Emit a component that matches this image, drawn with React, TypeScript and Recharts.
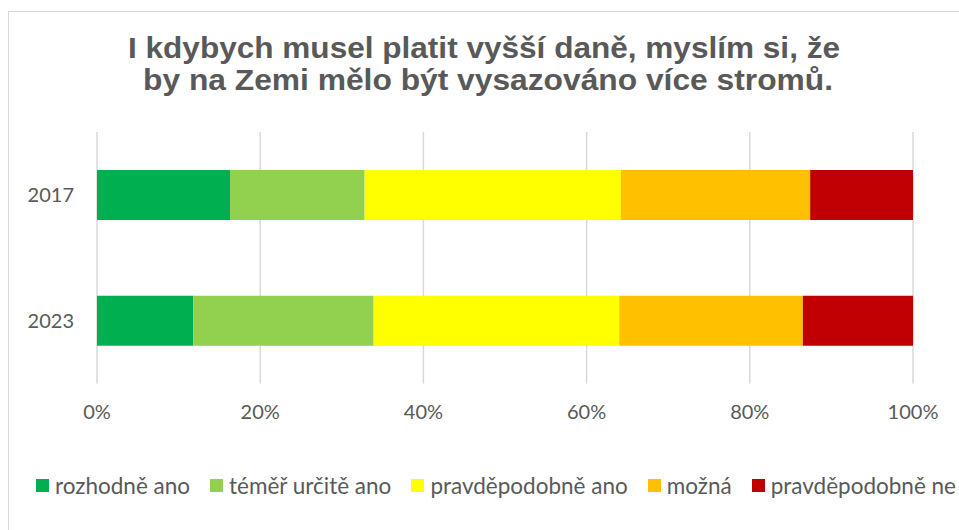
import React from 'react';
import { BarChart, Bar, XAxis, YAxis, CartesianGrid } from 'recharts';

// categories and series
const years = ['2017', '2023'];
const seriesNames = ['rozhodně ano', 'téměř určitě ano', 'pravděpodobně ano', 'možná', 'pravděpodobně ne'];
const seriesColors = ['#00B050', '#92D050', '#FFFF00', '#FFC000', '#C00000'];
const values2017 = [16.3, 16.5, 31.4, 23.2, 12.6];
const values2023 = [11.8, 22.1, 30.1, 22.5, 13.5];
const xTicks = [0, 0.2, 0.4, 0.6, 0.8, 1];
const titleLines = [
  'I kdybych musel platit vyšší daně, myslím si, že',
  'by na Zemi mělo být vysazováno více stromů.'
];

const TEXT = '#595959';
const GRID = '#d9d9d9';
const FONT = 'Lato, "Open Sans", sans-serif';

const yearValues = [values2017, values2023];
const chartData = years.map((year, i) => {
  const row: Record<string, string | number> = { year };
  seriesNames.forEach((_, j) => {
    row[`s${j}`] = yearValues[i][j];
  });
  return row;
});

const App = () => {
  return (
    <div
      style={{
        position: 'absolute',
        left: 0,
        top: 0,
        width: 959,
        height: 530,
        overflow: 'hidden',
        background: '#fff'
      }}
    >
      {/* chart frame, cut off on the right and bottom like in the screenshot */}
      <div
        style={{
          position: 'absolute',
          left: 8,
          top: 11,
          width: 1000,
          height: 600,
          border: `1px solid ${GRID}`,
          boxSizing: 'border-box'
        }}
      />
      <svg width={959} height={110} style={{ position: 'absolute', left: 0, top: 0 }}>
        <text
          x={484}
          y={58}
          textAnchor="middle"
          fontFamily='"Liberation Sans", Arial, sans-serif'
          fontWeight="bold"
          fontSize={29}
          fill={TEXT}
          textLength={712}
          lengthAdjust="spacingAndGlyphs"
        >
          {titleLines[0]}
        </text>
        <text
          x={488}
          y={90}
          textAnchor="middle"
          fontFamily='"Liberation Sans", Arial, sans-serif'
          fontWeight="bold"
          fontSize={29}
          fill={TEXT}
          textLength={690}
          lengthAdjust="spacingAndGlyphs"
        >
          {titleLines[1]}
        </text>
      </svg>
      <div style={{ position: 'absolute', left: 0, top: 0 }}>
        <BarChart
          width={959}
          height={530}
          data={chartData}
          layout="vertical"
          stackOffset="expand"
          margin={{ top: 132, right: 46, bottom: 106.5, left: 17 }}
        >
          <CartesianGrid horizontal={false} stroke={GRID} strokeWidth={1.5} />
          <XAxis
            type="number"
            domain={[0, 1]}
            ticks={xTicks}
            tickFormatter={(v: number) => `${Math.round(v * 100)}%`}
            axisLine={false}
            tickLine={false}
            tickSize={0}
            tickMargin={21}
            height={40}
            tick={{ fill: TEXT, fontSize: 20, fontFamily: FONT }}
          />
          <YAxis
            type="category"
            dataKey="year"
            axisLine={false}
            tickLine={false}
            tickSize={0}
            tickMargin={23}
            width={80}
            tick={{ fill: TEXT, fontSize: 20, fontFamily: FONT }}
          />
          {seriesNames.map((name, j) => (
            <Bar
              key={name}
              dataKey={`s${j}`}
              name={name}
              stackId="a"
              fill={seriesColors[j]}
              barSize={50}
              isAnimationActive={false}
            />
          ))}
        </BarChart>
      </div>
      {/* legend */}
      <div
        style={{
          position: 'absolute',
          left: 36,
          top: 470,
          height: 30,
          display: 'flex',
          alignItems: 'center',
          whiteSpace: 'nowrap',
          fontFamily: FONT,
          fontSize: 22.5,
          color: TEXT
        }}
      >
        {seriesNames.map((name, j) => (
          <div key={name} style={{ display: 'flex', alignItems: 'center', marginRight: 20 }}>
            <span
              style={{
                display: 'inline-block',
                width: 13,
                height: 13,
                background: seriesColors[j],
                marginRight: 6
              }}
            />
            <span>{name}</span>
          </div>
        ))}
      </div>
    </div>
  );
};

export default App;
